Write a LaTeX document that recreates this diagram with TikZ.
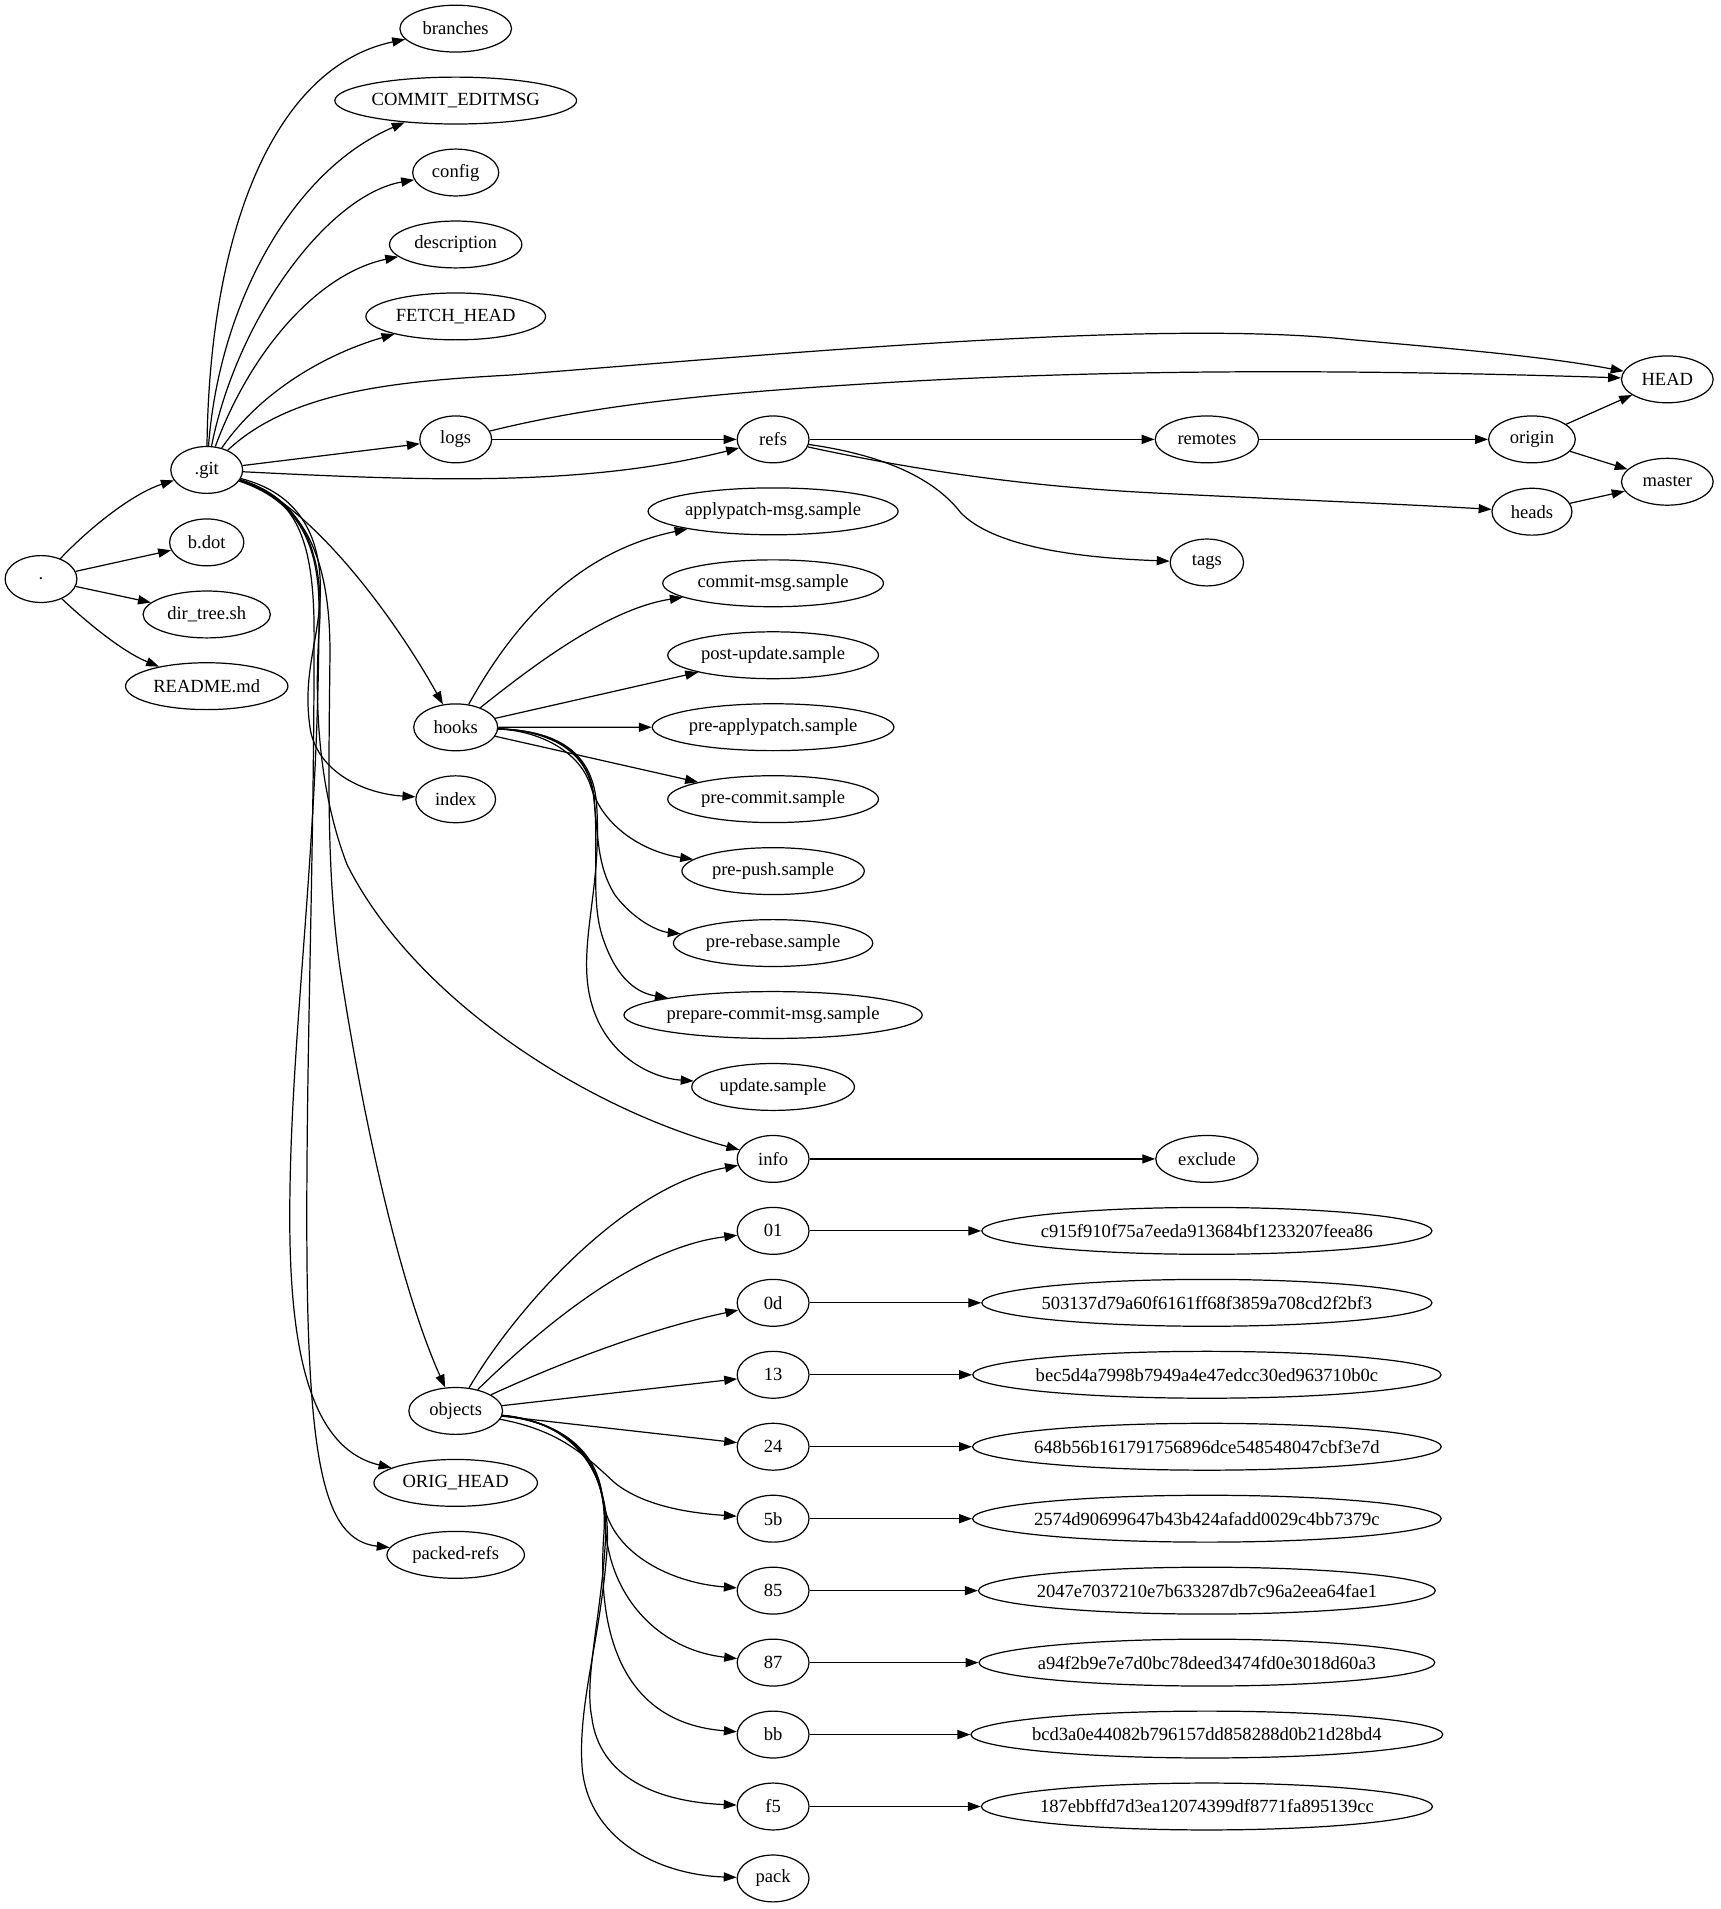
\documentclass[tikz,border=0pt]{standalone}
\usepackage{fontspec}
\setmainfont{Liberation Serif}
\usetikzlibrary{arrows.meta,shapes.geometric}
\newcommand{\gvfont}{\fontsize{15.25}{18}\selectfont}
\newcommand{\lbl}[1]{\makebox[0pt][c]{#1}}
\tikzset{
  nd/.style={draw, ellipse, line width=1pt, minimum height=38.5pt, minimum width=#1, inner sep=0pt, font=\gvfont},
  nd/.default=59pt,
  ed/.style={draw, line width=1pt, -{Triangle[length=10.6pt,width=7.5pt]}},
}
\begin{document}
\begin{tikzpicture}[x=1pt,y=-1pt]
\useasboundingbox (0,0) rectangle (1413,1568);
% column 0/1
\node[nd] (dot) at (33.7,475.6) {\lbl{.}};
\node[nd] (git) at (169.8,386) {\lbl{.git}};
\node[nd=61pt] (bdot) at (169.8,445.5) {\lbl{b.dot}};
\node[nd=104.6pt] (dirtree) at (169.8,504.7) {\lbl{dir\_tree.sh}};
\node[nd=133.4pt] (readme) at (169.8,563.6) {\lbl{README.md}};
% column 2
\node[nd=91.7pt] (branches) at (374.3,23.5) {\lbl{branches}};
\node[nd=198.6pt] (commit) at (374.3,82.6) {\lbl{COMMIT\_EDITMSG}};
\node[nd=70.7pt] (config) at (374.3,141.7) {\lbl{config}};
\node[nd=108.7pt] (descr) at (374.3,200.8) {\lbl{description}};
\node[nd=147.6pt] (fetch) at (374.3,259.9) {\lbl{FETCH\_HEAD}};
\node[nd] (logs) at (374.3,360.9) {\lbl{logs}};
\node[nd=69pt] (hooks) at (374.3,597.4) {\lbl{hooks}};
\node[nd=65.5pt] (index) at (374.3,656.5) {\lbl{index}};
\node[nd=77pt] (objects) at (374.3,1158.9) {\lbl{objects}};
\node[nd=134.3pt] (orig) at (374.3,1218) {\lbl{ORIG\_HEAD}};
\node[nd=112.9pt] (packed) at (374.3,1277.1) {\lbl{packed-refs}};
% column 3
\node[nd] (refs) at (635,360.9) {\lbl{refs}};
\node[nd=205.4pt] (s1) at (635,420) {\lbl{applypatch-msg.sample}};
\node[nd=181.3pt] (s2) at (635,479.1) {\lbl{commit-msg.sample}};
\node[nd=173.1pt] (s3) at (635,538.2) {\lbl{post-update.sample}};
\node[nd=198.5pt] (s4) at (635,597.3) {\lbl{pre-applypatch.sample}};
\node[nd=173.1pt] (s5) at (635,656.4) {\lbl{pre-commit.sample}};
\node[nd=149.8pt] (s6) at (635,715.5) {\lbl{pre-push.sample}};
\node[nd=163.7pt] (s7) at (635,774.6) {\lbl{pre-rebase.sample}};
\node[nd=245pt] (s8) at (635,833.7) {\lbl{prepare-commit-msg.sample}};
\node[nd=133.6pt] (s9) at (635,892.8) {\lbl{update.sample}};
\node[nd] (info) at (635,951.9) {\lbl{info}};
\node[nd] (o01) at (635,1011) {\lbl{01}};
\node[nd] (o0d) at (635,1070.1) {\lbl{0d}};
\node[nd] (o13) at (635,1129.2) {\lbl{13}};
\node[nd] (o24) at (635,1188.3) {\lbl{24}};
\node[nd] (o5b) at (635,1247.4) {\lbl{5b}};
\node[nd] (o85) at (635,1306.5) {\lbl{85}};
\node[nd] (o87) at (635,1365.6) {\lbl{87}};
\node[nd] (obb) at (635,1424.7) {\lbl{bb}};
\node[nd] (of5) at (635,1483.8) {\lbl{f5}};
\node[nd] (pack) at (635,1542.9) {\lbl{pack}};
% column 4
\node[nd=84.9pt] (remotes) at (991.3,360.9) {\lbl{remotes}};
\node[nd=60.2pt] (tags) at (991.3,462) {\lbl{tags}};
\node[nd=84pt] (exclude) at (991.3,951.9) {\lbl{exclude}};
\node[nd=369.7pt] (h01) at (991.3,1011) {\lbl{c915f910f75a7eeda913684bf1233207feea86}};
\node[nd=369.7pt] (h0d) at (991.3,1070.1) {\lbl{503137d79a60f6161ff68f3859a708cd2f2bf3}};
\node[nd=384.7pt] (h13) at (991.3,1129.2) {\lbl{bec5d4a7998b7949a4e47edcc30ed963710b0c}};
\node[nd=384.9pt] (h24) at (991.3,1188.3) {\lbl{648b56b161791756896dce548548047cbf3e7d}};
\node[nd=384.9pt] (h5b) at (991.3,1247.4) {\lbl{2574d90699647b43b424afadd0029c4bb7379c}};
\node[nd=375.2pt] (h85) at (991.3,1306.5) {\lbl{2047e7037210e7b633287db7c96a2eea64fae1}};
\node[nd=374.3pt] (h87) at (991.3,1365.6) {\lbl{a94f2b9e7e7d0bc78deed3474fd0e3018d60a3}};
\node[nd=387.5pt] (hbb) at (991.3,1424.7) {\lbl{bcd3a0e44082b796157dd858288d0b21d28bd4}};
\node[nd=370.5pt] (hf5) at (991.3,1483.8) {\lbl{187ebbffd7d3ea12074399df8771fa895139cc}};
% column 5/6
\node[nd=71.2pt] (origin) at (1258.3,360.9) {\lbl{origin}};
\node[nd=65.7pt] (heads) at (1258.3,420.3) {\lbl{heads}};
\node[nd=75.3pt] (HEAD) at (1369.5,311.6) {\lbl{HEAD}};
\node[nd=75.3pt] (master) at (1369.5,395.7) {\lbl{master}};

% edges from .
\draw[ed] (dot) .. controls (75,432) and (110,405) .. (git);
\draw[ed] (dot) -- (bdot);
\draw[ed] (dot) -- (dirtree);
\draw[ed] (dot) .. controls (70,510) and (100,535) .. (readme);

% .git upward fan
\draw[ed] (git) .. controls (172,190) and (225,55) .. (branches);
\draw[ed] (git) .. controls (180,250) and (240,140) .. (commit);
\draw[ed] (git) .. controls (195,260) and (270,160) .. (config);
\draw[ed] (git) .. controls (205,290) and (260,225) .. (descr);
\draw[ed] (git) .. controls (215,320) and (270,290) .. (fetch);
\draw[ed] (git) .. controls (240,320) and (330,313) .. (420,308)
              .. controls (650,290) and (950,262) .. (1110,279)
              .. controls (1200,287) and (1270,293) .. (HEAD);
\draw[ed] (git) -- (logs);
\draw[ed] (git) .. controls (350,395) and (480,400) .. (refs);

% logs
\draw[ed] (logs) .. controls (480,335) and (560,325) .. (700,316)
               .. controls (900,303) and (1100,303) .. (HEAD);
\draw[ed] (logs) -- (refs);

% refs
\draw[ed] (refs) -- (remotes);
\draw[ed] (refs) .. controls (760,388) and (850,400) .. (950,405)
               .. controls (1050,410) and (1150,414) .. (heads);
\draw[ed] (refs) .. controls (720,373) and (765,390) .. (789,421)
               .. controls (815,448) and (880,458) .. (tags);
\draw[ed] (remotes) -- (origin);
\draw[ed] (origin) -- (HEAD);
\draw[ed] (origin) -- (master);
\draw[ed] (heads) -- (master);

% .git downward bundle
\draw[ed] (git) .. controls (250,410) and (320,500) .. (hooks);
\draw[ed] (git) .. controls (245,405) and (265,440) .. (263,490)
              .. controls (261,530) and (248,555) .. (255,600)
              .. controls (262,635) and (300,652) .. (index);
\draw[ed] (git) .. controls (245,408) and (268,450) .. (262,520)
              .. controls (258,580) and (262,650) .. (285,710)
              .. controls (340,820) and (480,910) .. (info);
\draw[ed] (git) .. controls (245,410) and (272,450) .. (271,540)
              .. controls (270,640) and (268,720) .. (280,800)
              .. controls (300,930) and (330,1060) .. (objects);
\draw[ed] (git) .. controls (240,410) and (262,440) .. (262,500)
              .. controls (262,700) and (238,850) .. (238,1000)
              .. controls (238,1110) and (255,1190) .. (orig);
\draw[ed] (git) .. controls (242,408) and (258,440) .. (258,520)
              .. controls (258,700) and (252,850) .. (252,1000)
              .. controls (252,1200) and (265,1265) .. (packed);

% hooks fan
\draw[ed] (hooks) .. controls (415,525) and (465,455) .. (s1);
\draw[ed] (hooks) .. controls (440,545) and (500,500) .. (s2);
\draw[ed] (hooks) -- (s3);
\draw[ed] (hooks) -- (s4);
\draw[ed] (hooks) -- (s5);
\draw[ed] (hooks) .. controls (440,600) and (475,615) .. (485,645)
                .. controls (495,680) and (530,700) .. (s6);
\draw[ed] (hooks) .. controls (445,600) and (480,612) .. (487,650)
                .. controls (492,690) and (490,710) .. (505,735)
                .. controls (520,755) and (540,765) .. (s7);
\draw[ed] (hooks) .. controls (448,600) and (483,612) .. (488,655)
                .. controls (492,700) and (485,740) .. (495,770)
                .. controls (505,800) and (520,815) .. (s8);
\draw[ed] (hooks) .. controls (450,600) and (486,612) .. (490,660)
                .. controls (494,720) and (480,760) .. (482,800)
                .. controls (485,860) and (530,885) .. (s9);

% objects fan
\draw[ed] (objects) .. controls (420,1080) and (510,975) .. (info);
\draw[ed] (objects) .. controls (440,1095) and (520,1025) .. (o01);
\draw[ed] (objects) .. controls (470,1115) and (540,1090) .. (o0d);
\draw[ed] (objects) -- (o13);
\draw[ed] (objects) -- (o24);
\draw[ed] (objects) .. controls (460,1175) and (480,1195) .. (505,1218)
                  .. controls (530,1238) and (570,1243) .. (o5b);
\draw[ed] (objects) .. controls (460,1168) and (490,1190) .. (495,1230)
                  .. controls (500,1275) and (550,1300) .. (o85);
\draw[ed] (objects) .. controls (465,1168) and (495,1195) .. (497,1250)
                  .. controls (499,1310) and (540,1355) .. (o87);
\draw[ed] (objects) .. controls (468,1168) and (500,1200) .. (496,1260)
                  .. controls (490,1340) and (510,1415) .. (obb);
\draw[ed] (objects) .. controls (470,1168) and (502,1205) .. (497,1270)
                  .. controls (493,1330) and (480,1380) .. (486,1410)
                  .. controls (492,1460) and (540,1480) .. (of5);
\draw[ed] (objects) .. controls (472,1168) and (505,1210) .. (498,1280)
                  .. controls (492,1350) and (475,1400) .. (478,1450)
                  .. controls (482,1510) and (540,1540) .. (pack);

% leaves
\draw[ed] (info) -- (exclude);
\draw[ed] (o01) -- (h01);
\draw[ed] (o0d) -- (h0d);
\draw[ed] (o13) -- (h13);
\draw[ed] (o24) -- (h24);
\draw[ed] (o5b) -- (h5b);
\draw[ed] (o85) -- (h85);
\draw[ed] (o87) -- (h87);
\draw[ed] (obb) -- (hbb);
\draw[ed] (of5) -- (hf5);
\end{tikzpicture}
\end{document}
